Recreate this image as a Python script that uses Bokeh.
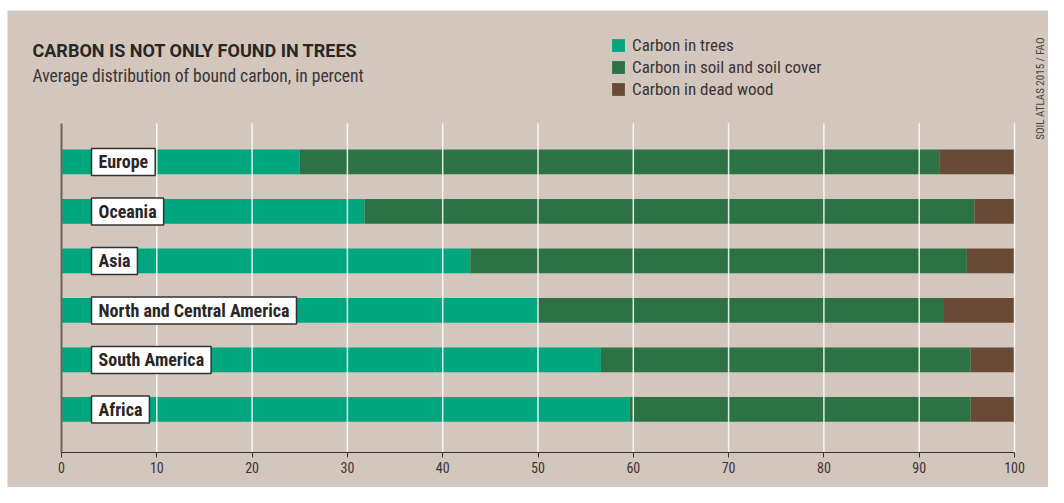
import math
from bokeh.plotting import figure
from bokeh.models import (ColumnDataSource, Range1d, FixedTicker, Label, Legend,
                          LegendItem, BoxAnnotation)
from bokeh.embed import file_html
from bokeh.resources import INLINE

# ---------------- data ----------------
regions = ["Africa", "South America", "North and Central America", "Asia", "Oceania", "Europe"]
trees = [59.6, 56.6, 49.9, 42.9, 31.8, 25.0]
soil = [35.8, 38.8, 42.7, 52.1, 64.0, 67.1]
dead = [4.6, 4.6, 7.4, 5.0, 4.2, 7.9]
series_names = ["Carbon in trees", "Carbon in soil and soil cover", "Carbon in dead wood"]
ticks = [0, 10, 20, 30, 40, 50, 60, 70, 80, 90, 100]
title_text = "CARBON IS NOT ONLY FOUND IN TREES"
subtitle_text = "Average distribution of bound carbon, in percent"
source_text = "SOIL ATLAS 2015 / FAO"

# ---------------- layout / styles ----------------
W, H = 1048, 487
PLOT_L, PLOT_R = 61, 1014          # pixel positions of 0 and 100
PLOT_T, PLOT_B = 123, 452          # pixel top / bottom of the plotting area
ROW = 49.5                          # pixels per category row
BOT_PAD = 0.87                      # rows below first bar centre
TOP_PAD = 0.78                      # rows above last bar centre
BG = "#d2c6bd"
COLORS = ["#00a67e", "#2d7245", "#684a36"]
NARROW = "'Liberation Sans Narrow', 'Roboto Condensed', Roboto, sans-serif"
TXT = "#2a2626"

px_per_x = (PLOT_R - PLOT_L) / 100.0
y_lo = -BOT_PAD
y_hi = len(regions) - 1 + TOP_PAD

source = ColumnDataSource(dict(
    y=list(range(len(regions))),
    region=regions,
    trees=trees,
    soil=soil,
    dead=dead,
))

p = figure(width=W, height=H, output_backend="svg", toolbar_location=None,
           x_range=Range1d(-PLOT_L / px_per_x, (W - PLOT_L) / px_per_x),
           y_range=Range1d(y_lo - (H - PLOT_B) / ROW, y_lo + PLOT_B / ROW),
           min_border=0, min_border_left=0, min_border_right=0,
           min_border_top=0, min_border_bottom=0)
p.background_fill_color = "white"
p.border_fill_color = "white"
p.outline_line_color = None
p.xgrid.visible = False
p.ygrid.visible = False

# beige panel (reference image has a thin white strip on the top and left)
p.add_layout(BoxAnnotation(left=7, left_units="screen", top=H - 10, top_units="screen",
                           fill_color=BG, fill_alpha=1, line_color=None, level="underlay"))

rs = p.hbar_stack(["trees", "soil", "dead"], y="y", height=0.5, color=COLORS,
                  line_color=None, source=source)

# vertical gridlines over the bars, limited to the plotting area
grid_src = ColumnDataSource(dict(x=ticks[1:], y0=[y_lo] * len(ticks[1:]),
                                 y1=[y_hi] * len(ticks[1:])))
p.segment(x0="x", y0="y0", x1="x", y1="y1", line_color="white", line_alpha=0.85,
          line_width=1.5, source=grid_src)

# axes placed at fixed data positions
p.xaxis.fixed_location = y_lo
p.xaxis.bounds = (0, 100)
p.xaxis.ticker = FixedTicker(ticks=ticks)
p.xaxis.axis_line_color = "#333333"
p.xaxis.axis_line_width = 1.2
p.xaxis.major_tick_line_color = "#333333"
p.xaxis.major_tick_out = 5
p.xaxis.major_tick_in = 0
p.xaxis.minor_tick_line_color = None
p.xaxis.major_label_text_font = NARROW
p.xaxis.major_label_text_font_size = "14px"
p.xaxis.major_label_text_color = "#3a3535"
p.xaxis.major_label_standoff = 4

p.yaxis.fixed_location = 0
p.yaxis.bounds = (y_lo, y_hi)
p.yaxis.ticker = FixedTicker(ticks=[])
p.yaxis.axis_line_color = "#6e645d"
p.yaxis.axis_line_width = 2
p.yaxis.major_tick_line_color = None
p.yaxis.minor_tick_line_color = None
p.yaxis.major_label_text_font_size = "0px"

# category labels in white boxes
for i, name in enumerate(regions):
    p.add_layout(Label(x=3.15, y=i, text=name, text_font=NARROW, text_font_style="bold",
                       text_font_size="18px", text_color=TXT, text_align="left",
                       text_baseline="middle", background_fill_color="white",
                       border_line_color="#333333", border_line_width=1.5,
                       padding=(7, 3), level="overlay"))

# legend
legend = Legend(items=[LegendItem(label=n, renderers=[r]) for n, r in zip(series_names, rs)],
                location=(610, H - 99), orientation="vertical", padding=0, margin=0,
                spacing=2, glyph_width=16, glyph_height=16, label_standoff=6,
                label_height=16, label_text_font=NARROW, label_text_font_size="17px",
                label_text_color="#3a3535", background_fill_alpha=0,
                border_line_color=None)
p.add_layout(legend)

# title, subtitle, source
p.add_layout(Label(x=32, y=H - 50, x_units="screen", y_units="screen", text=title_text,
                   text_font="Roboto", text_font_style="bold", text_font_size="18px",
                   text_color=TXT, text_baseline="alphabetic"))
p.add_layout(Label(x=32, y=H - 75, x_units="screen", y_units="screen", text=subtitle_text,
                   text_font=NARROW, text_font_size="17.5px", text_color="#3a3535",
                   text_baseline="alphabetic"))
p.add_layout(Label(x=1040, y=H - 37, x_units="screen", y_units="screen", text=source_text,
                   text_font=NARROW, text_font_size="11px", text_color="#4a4440",
                   angle=math.pi / 2, text_align="right", text_baseline="middle"))

open("out.html", "w").write(file_html(p, INLINE))
